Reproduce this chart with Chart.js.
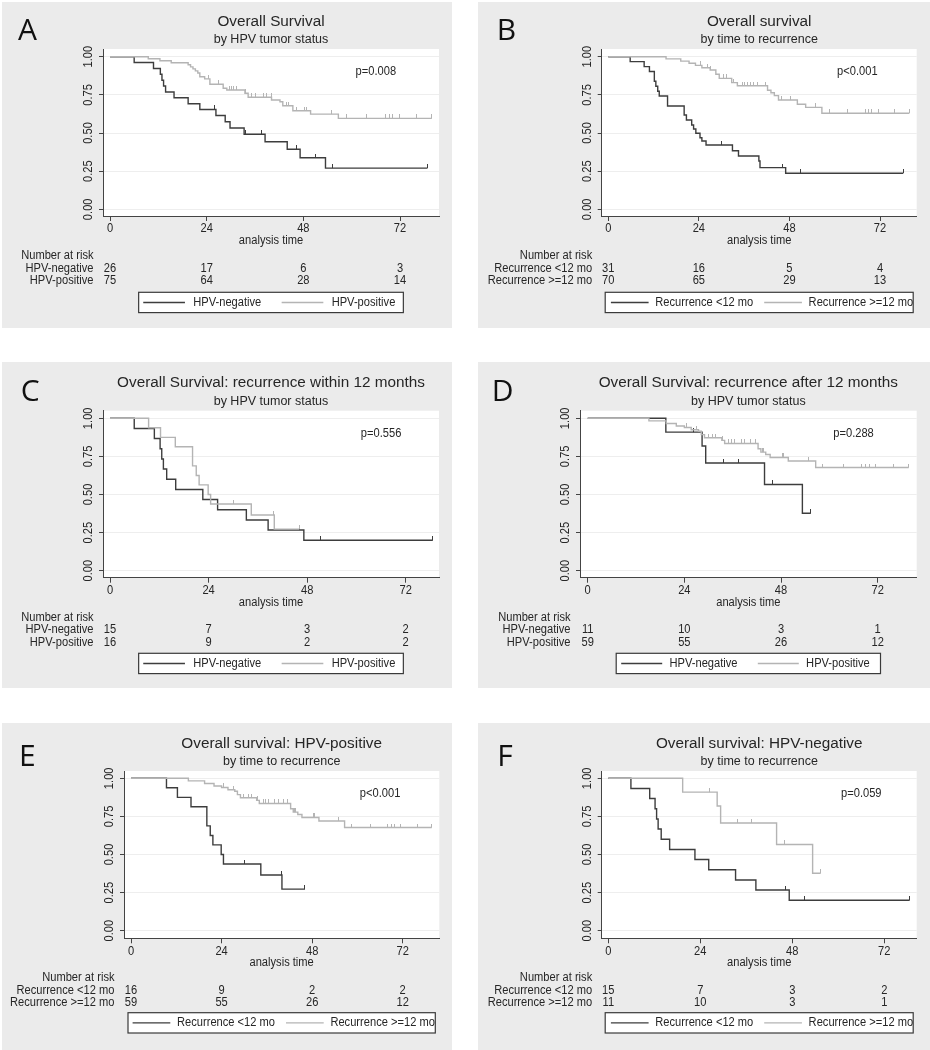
<!DOCTYPE html>
<html>
<head>
<meta charset="utf-8">
<script src="https://cdn.jsdelivr.net/npm/chart.js@4.4.1/dist/chart.umd.min.js"></script>
<style>
  html, body { margin: 0; padding: 0; background: #fff; }
  body { position: relative; width: 930px; height: 1050px; overflow: hidden; }
  canvas { position: absolute; }
</style>
</head>
<body>
<canvas id="pA"></canvas>
<canvas id="pB"></canvas>
<canvas id="pC"></canvas>
<canvas id="pD"></canvas>
<canvas id="pE"></canvas>
<canvas id="pF"></canvas>
<script>
// Kaplan-Meier curves: step times (months) and survival after each step

// HPV-negative, recurrence < 12 mo
const negEarlyT = [0, 5.9, 10.8, 12.2, 12.6, 13.0, 13.8, 16.0, 22.6, 26.2, 33.2, 38.5, 47.2];
const negEarlyS = [1, 0.933, 0.867, 0.800, 0.733, 0.667, 0.600, 0.533, 0.467, 0.400, 0.333, 0.267, 0.200];
const negEarlyEnd = 78.6;
const negEarlyCens = [46.2, 51.3, 78.6];

// HPV-positive, recurrence < 12 mo
const posEarlyT = [0, 9.4, 12.3, 15.9, 20.1, 21.0, 21.7, 23.9, 24.5, 34.4, 40.0];
const posEarlyS = [1, 0.938, 0.875, 0.813, 0.688, 0.625, 0.563, 0.500, 0.438, 0.365, 0.273];
const posEarlyEnd = 46.1;
const posEarlyCens = [30.0, 39.8, 46.1];

// HPV-negative, recurrence >= 12 mo
const negLateT = [0, 19.4, 28.4, 29.3, 43.9, 53.3];
const negLateS = [1, 0.909, 0.818, 0.707, 0.566, 0.377];
const negLateEnd = 55.4;
const negLateCens = [26.3, 33.6, 37.4, 45.9, 55.4];

// HPV-positive, recurrence >= 12 mo
const posLateT = [0, 15.2, 19.5, 22.0, 24.0, 25.7, 27.5, 28.2, 29.0, 33.3, 34.0, 42.3, 43.0, 44.2, 45.3, 49.8, 56.6];
const posLateS = [1, 0.983, 0.966, 0.949, 0.940, 0.925, 0.915, 0.893, 0.872, 0.855, 0.835, 0.800, 0.778, 0.762, 0.743, 0.720, 0.677];
const posLateEnd = 79.7;
const posLateCens = [24.6, 27.1, 29.9, 31.1, 31.8, 33.4, 35.0, 35.6, 36.4, 38.1, 39.0, 40.3, 41.6, 43.4, 43.7,
                     48.3, 48.7, 54.9, 58.4, 63.4, 68.1, 69.0, 69.9, 71.5, 75.9, 79.7];

// HPV-negative, all
const negAllT = [0, 6.0, 10.8, 12.5, 12.9, 13.3, 13.8, 15.9, 19.4, 22.3, 26.3, 28.6, 29.8, 33.3, 38.5, 44.0, 47.2, 53.5];
const negAllS = [1, 0.962, 0.923, 0.885, 0.846, 0.808, 0.769, 0.731, 0.692, 0.654, 0.615, 0.574, 0.533, 0.492, 0.443, 0.394, 0.338, 0.270];
const negAllEnd = 78.8;
const negAllCens = [26.0, 33.6, 37.5, 46.3, 51.1, 55.3, 78.8];

// HPV-positive, all
const posAllT = [0, 9.5, 12.4, 15.2, 19.4, 20.0, 20.6, 21.2, 21.8, 22.3, 23.5, 24.8, 28.1, 29.0, 33.5, 34.3, 40.1, 42.2, 42.9, 45.4, 49.8, 56.7];
const posAllS = [1, 0.987, 0.973, 0.960, 0.947, 0.933, 0.920, 0.907, 0.893, 0.869, 0.855, 0.819, 0.793, 0.782, 0.760, 0.734, 0.716, 0.705, 0.679, 0.646, 0.624, 0.596];
const posAllEnd = 79.9;
const posAllCens = [24.4, 26.9, 29.6, 30.2, 30.6, 31.4, 33.6, 35.2, 36.0, 38.1, 38.9, 40.0, 43.9, 44.3, 46.3,
                    48.4, 48.8, 55.0, 58.8, 63.7, 68.5, 69.4, 70.2, 71.8, 76.1, 79.9];

// recurrence < 12 mo, all
const earlyAllT = [0, 5.8, 9.5, 10.9, 12.2, 12.6, 13.1, 13.5, 15.7, 20.1, 20.7, 22.1, 22.6, 23.2, 24.3, 24.8, 25.9, 32.9, 34.5, 39.9, 40.2, 47.0];
const earlyAllS = [1, 0.968, 0.935, 0.903, 0.839, 0.806, 0.774, 0.742, 0.677, 0.618, 0.585, 0.552, 0.526, 0.498, 0.469, 0.448, 0.421, 0.384, 0.349, 0.317, 0.273, 0.236];
const earlyAllEnd = 78.1;
const earlyAllCens = [30.1, 46.1, 51.0, 78.1];

// recurrence >= 12 mo, all
const lateAllT = [0, 15.3, 19.2, 21.4, 23.1, 24.8, 27.0, 28.5, 29.4, 32.7, 34.2, 42.2, 43.1, 44.0, 45.1, 50.1, 52.3, 56.6];
const lateAllS = [1, 0.986, 0.971, 0.957, 0.943, 0.928, 0.913, 0.885, 0.858, 0.830, 0.810, 0.780, 0.764, 0.745, 0.716, 0.688, 0.668, 0.629];
const lateAllEnd = 79.7;
const lateAllCens = [24.5, 26.3, 27.2, 30.5, 31.3, 33.2, 35.5, 36.2, 37.0, 37.8, 38.6, 39.5, 41.7, 46.0, 48.4,
                     55.0, 58.5, 63.4, 68.2, 69.0, 69.8, 71.6, 75.9, 79.7];

// number at risk at 0, 24, 48, 72
const riskNegAll = [26, 17, 6, 3];
const riskPosAll = [75, 64, 28, 14];
const riskEarlyAll = [31, 16, 5, 4];
const riskLateAll = [70, 65, 29, 13];
const riskNegEarly = [15, 7, 3, 2];
const riskPosEarly = [16, 9, 2, 2];
const riskNegLate = [11, 10, 3, 1];
const riskPosLate = [59, 55, 26, 12];

const xTicks = [0, 24, 48, 72];
const yTicks = [0, 0.25, 0.5, 0.75, 1];

const DARK = '#3d3d3d', LIGHT = '#b4b4b4', INK = '#262626', BG = '#ebebeb';
const FONT = '"Liberation Sans", Arial, sans-serif';

const negEarly = { T: negEarlyT, S: negEarlyS, end: negEarlyEnd, cens: negEarlyCens };
const posEarly = { T: posEarlyT, S: posEarlyS, end: posEarlyEnd, cens: posEarlyCens };
const negLate = { T: negLateT, S: negLateS, end: negLateEnd, cens: negLateCens };
const posLate = { T: posLateT, S: posLateS, end: posLateEnd, cens: posLateCens };
const negAll = { T: negAllT, S: negAllS, end: negAllEnd, cens: negAllCens };
const posAll = { T: posAllT, S: posAllS, end: posAllEnd, cens: posAllCens };
const earlyAll = { T: earlyAllT, S: earlyAllS, end: earlyAllEnd, cens: earlyAllCens };
const lateAll = { T: lateAllT, S: lateAllS, end: lateAllEnd, cens: lateAllCens };

function curvePts(c) {
  const pts = c.T.map((t, i) => ({ x: t, y: c.S[i] }));
  pts.push({ x: c.end, y: c.S[c.S.length - 1] });
  return pts;
}

// censor tick sits on the curve: level of the step function at that time
function levelAt(c, t) {
  let v = c.S[0];
  c.T.forEach((tt, i) => { if (tt <= t) v = c.S[i]; });
  return v;
}

// small upward tick, used as point style for censored observations
function censorMark(color) {
  const cv = document.createElement('canvas');
  cv.width = 1; cv.height = 8;
  const g = cv.getContext('2d');
  g.fillStyle = color;
  g.fillRect(0, 0, 1, 4);
  return cv;
}

function say(ctx, s, x, y, o = {}) {
  ctx.save();
  ctx.translate(x, y);
  if (o.rot) ctx.rotate(o.rot);
  ctx.scale(o.sx || 0.89, 1);
  ctx.font = (o.size || 12.5) + 'px ' + (o.family || FONT);
  ctx.fillStyle = o.color || INK;
  ctx.textAlign = o.align || 'center';
  ctx.textBaseline = o.base || 'middle';
  ctx.fillText(s, 0, 0);
  ctx.restore();
}

function panel(p) {
  const cv = document.getElementById(p.id);
  const [bx, by, bw, bh] = p.box;
  const [pl, pt, pr, pb] = p.plot;
  cv.width = bw; cv.height = bh;
  cv.style.left = bx + 'px'; cv.style.top = by + 'px';
  const ppm = (p.x72 - p.x0) / 72, ppu = p.y0 - p.y1;
  const AX = 6;

  const datasets = [];
  p.curves.forEach((c, k) => {
    const col = k ? LIGHT : DARK;
    datasets.push({ data: curvePts(c), borderColor: col, borderWidth: 1.4, stepped: 'before',
                    pointRadius: 0, fill: false, order: k ? 0 : 2 });
    datasets.push({ data: c.cens.map(t => ({ x: t, y: levelAt(c, t) })), showLine: false,
                    pointStyle: censorMark(col), pointRadius: 2, order: k ? 1 : 3 });
  });

  new Chart(cv, {
    type: 'line',
    data: { datasets },
    options: {
      responsive: false, animation: false, devicePixelRatio: 1, events: [],
      layout: { padding: { left: pl - bx - AX, top: pt - by, right: bx + bw - pr, bottom: by + bh - pb - AX } },
      plugins: { legend: { display: false }, tooltip: { enabled: false } },
      scales: {
        x: {
          type: 'linear', min: (pl - p.x0) / ppm, max: (pr - p.x0) / ppm,
          afterBuildTicks: s => { s.ticks = xTicks.map(v => ({ value: v })); },
          afterFit: s => { s.height = AX; },
          ticks: { display: false },
          grid: { drawOnChartArea: false, tickLength: 5, tickColor: '#444' },
          border: { color: '#444', width: 1 }
        },
        y: {
          type: 'linear', min: (p.y0 - pb) / ppu, max: (p.y0 - pt) / ppu,
          afterBuildTicks: s => { s.ticks = yTicks.map(v => ({ value: v })); },
          afterFit: s => { s.width = AX; },
          ticks: { display: false },
          grid: { color: '#eeeeee', tickLength: 4, tickColor: '#444' },
          border: { color: '#444', width: 1 }
        }
      }
    },
    plugins: [{
      id: 'km' + p.id,
      beforeDraw(ch) {
        const ctx = ch.ctx, a = ch.chartArea;
        ctx.save();
        ctx.fillStyle = BG;
        ctx.fillRect(0, 0, bw, bh);
        ctx.fillStyle = '#fff';
        ctx.fillRect(a.left, a.top, a.right - a.left, a.bottom - a.top);
        ctx.restore();
      },
      afterDraw(ch) {
        const ctx = ch.ctx, xs = ch.scales.x, ys = ch.scales.y;
        const cx = (pl + pr) / 2 - bx, bot = pb - by, left = pl - bx;

        say(ctx, p.letter, p.lp[0] - bx, p.lp[1] - by + 10.7,
            { size: 30, sx: 1, align: 'left', base: 'alphabetic', family: '"Open Sans", sans-serif', color: '#111' });
        say(ctx, p.title, cx, pt - by - 27.5, { size: 15.3, sx: 1 });
        say(ctx, p.sub, cx, pt - by - 9.5, { size: 12.5, sx: 1 });

        yTicks.forEach(v => say(ctx, v.toFixed(2), left - 14.5, ys.getPixelForValue(v), { rot: -Math.PI / 2 }));
        xTicks.forEach(v => say(ctx, String(v), xs.getPixelForValue(v), bot + 12.8));
        say(ctx, 'analysis time', cx, bot + 24.5);
        say(ctx, p.pval, xs.getPixelForValue(66), ys.getPixelForValue(0.9));

        say(ctx, 'Number at risk', left - 9.5, bot + 39.5, { align: 'right' });
        p.names.forEach((nm, k) => {
          const y = bot + 52.1 + k * 12.6;
          say(ctx, nm, left - 9.5, y, { align: 'right' });
          p.risk[k].forEach((n, j) => say(ctx, String(n), xs.getPixelForValue(xTicks[j]), y));
        });

        const L = p.leg, lt = L.top - by, lh = 20.3, ll = cx - L.w / 2, my = lt + lh / 2;
        ctx.save();
        ctx.fillStyle = '#fff';
        ctx.fillRect(ll, lt, L.w, lh);
        ctx.strokeStyle = '#3a3a3a';
        ctx.lineWidth = 1.2;
        ctx.strokeRect(ll, lt, L.w, lh);
        [L.x1, L.x2].forEach((off, k) => {
          ctx.strokeStyle = k ? LIGHT : DARK;
          ctx.lineWidth = 1.4;
          ctx.beginPath();
          ctx.moveTo(ll + off, my);
          ctx.lineTo(ll + off + L.len, my);
          ctx.stroke();
          say(ctx, p.names[k], ll + off + L.len + L.gap, my, { align: 'left' });
        });
        ctx.restore();
      }
    }]
  });
}

const hpvNames = ['HPV-negative', 'HPV-positive'];
const recNames = ['Recurrence <12 mo', 'Recurrence >=12 mo'];
const legHpv = { w: 264.7, x1: 4.6, x2: 143, len: 41.7, gap: 8.3 };
const legRec = { w: 308, x1: 5.7, x2: 159, len: 37.7, gap: 6.7 };

panel({ id: 'pA', letter: 'A', lp: [18, 29], box: [2, 2, 450, 326], plot: [103, 49, 439, 216],
        x0: 110, x72: 400, y1: 56.7, y0: 209.3,
        title: 'Overall Survival', sub: 'by HPV tumor status', pval: 'p=0.008',
        curves: [negAll, posAll], names: hpvNames, risk: [riskNegAll, riskPosAll],
        leg: Object.assign({ top: 292.3 }, legHpv) });

panel({ id: 'pB', letter: 'B', lp: [496.7, 29], box: [478, 2, 452, 326], plot: [601.7, 49, 916.7, 216],
        x0: 608.3, x72: 880, y1: 56.7, y0: 209.3,
        title: 'Overall survival', sub: 'by time to recurrence', pval: 'p<0.001',
        curves: [earlyAll, lateAll], names: recNames, risk: [riskEarlyAll, riskLateAll],
        leg: Object.assign({ top: 292.3 }, legRec) });

panel({ id: 'pC', letter: 'C', lp: [20.7, 390], box: [2, 362, 450, 326], plot: [103, 410.7, 439, 577.7],
        x0: 110, x72: 405.7, y1: 418.3, y0: 570.7,
        title: 'Overall Survival: recurrence within 12 months', sub: 'by HPV tumor status', pval: 'p=0.556',
        curves: [negEarly, posEarly], names: hpvNames, risk: [riskNegEarly, riskPosEarly],
        leg: Object.assign({ top: 653.3 }, legHpv) });

panel({ id: 'pD', letter: 'D', lp: [491.7, 390], box: [478, 362, 452, 326], plot: [580, 410.7, 916.7, 577.7],
        x0: 587.7, x72: 877.7, y1: 418.3, y0: 570.7,
        title: 'Overall Survival: recurrence after 12 months', sub: 'by HPV tumor status', pval: 'p=0.288',
        curves: [negLate, posLate], names: hpvNames, risk: [riskNegLate, riskPosLate],
        leg: { top: 653.3, w: 264.3, x1: 5, x2: 141.6, len: 41, gap: 7.3 } });

panel({ id: 'pE', letter: 'E', lp: [19, 755], box: [2, 723, 450, 327], plot: [124, 771, 439.3, 938.3],
        x0: 131, x72: 402.7, y1: 778.3, y0: 930.7,
        title: 'Overall survival: HPV-positive', sub: 'by time to recurrence', pval: 'p<0.001',
        curves: [posEarly, posLate], names: recNames, risk: [riskPosEarly, riskPosLate],
        leg: { top: 1012.7, w: 307.3, x1: 4.6, x2: 158, len: 37.7, gap: 6.7 } });

panel({ id: 'pF', letter: 'F', lp: [497.3, 755], box: [478, 723, 452, 327], plot: [601.7, 771, 916.7, 938.3],
        x0: 608.3, x72: 884.3, y1: 778.3, y0: 930.7,
        title: 'Overall survival: HPV-negative', sub: 'by time to recurrence', pval: 'p=0.059',
        curves: [negEarly, negLate], names: recNames, risk: [riskNegEarly, riskNegLate],
        leg: Object.assign({ top: 1012.7 }, legRec) });
</script>
</body>
</html>
